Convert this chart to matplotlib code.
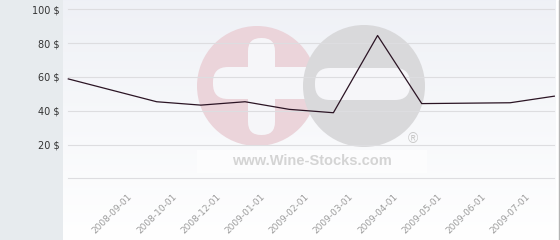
import matplotlib
matplotlib.use('Agg')
import matplotlib.pyplot as plt
import numpy as np
from matplotlib.patches import Circle, FancyBboxPatch, Rectangle
from matplotlib.transforms import Affine2D

# ========== Data ==========
# month offset of each price point (first point = month 0)
months = [0, 2, 3, 4, 5, 6, 7, 8, 10, 11]
prices = [58.8, 45.3, 43.3, 45.3, 40.8, 38.8, 84.5, 44.2, 44.7, 48.6]

tick_pos = [1, 2, 3, 4, 5, 6, 7, 8, 9, 10]
tick_labels = ['2008-09-01', '2008-10-01', '2008-12-01', '2009-01-01', '2009-02-01',
               '2009-03-01', '2009-04-01', '2009-05-01', '2009-06-01', '2009-07-01']
y_ticks = [0, 20, 40, 60, 80, 100]

W, H = 560, 240

fig = plt.figure(figsize=(W / 100, H / 100), dpi=100)
fig.patch.set_facecolor('#e7ebee')

# pixel transform, y measured from the top of the picture
px = Affine2D().scale(1, -1).translate(0, H).scale(0.01) + fig.dpi_scale_trans

# ========== Background panel ==========
bg = fig.add_axes([63 / W, 0, (556 - 63) / W, 1])
bg.set_axis_off()
grad = np.linspace(0, 1, 256).reshape(-1, 1)
top = np.array([0.937, 0.945, 0.965])
bot = np.array([1.0, 1.0, 1.0])
img = top + (bot - top) * grad[..., None]
bg.imshow(img, aspect='auto', extent=(0, 1, 0, 1), origin='upper')
bg.set_xlim(0, 1)
bg.set_ylim(0, 1)

# right border
fig.add_artist(Rectangle((556, 0), 3, H, transform=px, color='white', zorder=0))
fig.add_artist(Rectangle((559, 0), 1, H, transform=px, color='#b4b4b4', zorder=0))

# ========== Watermark ==========
def add(p):
    p.set_transform(px)
    p.set_clip_on(False)
    bg.add_artist(p)

add(Circle((257, 86), 60, color='#ebd4da', lw=0))
add(FancyBboxPatch((248, 38), 27, 97, boxstyle='round,pad=0,rounding_size=13',
                   color='#f6f6f9', lw=0))
add(FancyBboxPatch((213, 67), 110, 32, boxstyle='round,pad=0,rounding_size=15',
                   color='#f6f6f9', lw=0))
add(Circle((364, 86), 61, color='#d9d9db', lw=0))
add(FancyBboxPatch((315, 68), 95, 32, boxstyle='round,pad=0,rounding_size=15',
                   color='#f6f6f9', lw=0))
add(Rectangle((197, 150), 230, 23, color='white', alpha=0.6, lw=0))
bg.text(312, 161, 'www.Wine-Stocks.com', transform=px, ha='center', va='center',
        fontsize=10.5, fontweight='bold', family='Liberation Sans', color='#d4d4d4')
bg.text(413, 139, '\u00ae', transform=px, ha='center', va='center',
        fontsize=10, family='Liberation Sans', color='#c8c8c8')

# ========== Price chart ==========
ax = fig.add_axes([68.3 / W, (H - 178.3) / H, (554.3 - 68.3) / W, (178.3 - 9.3) / H])
ax.patch.set_alpha(0)
ax.plot(months, prices, color='#2b1424', lw=0.9, clip_on=False, zorder=3)

ax.set_xlim(0, 11)
ax.set_ylim(0, 100)
ax.set_yticks(y_ticks)
ax.set_yticklabels(['' if v == 0 else '{} $'.format(v) for v in y_ticks])
ax.set_xticks(tick_pos)
ax.set_xticklabels(tick_labels, rotation=45, ha='center')

ax.grid(axis='y', color='#dddde0', lw=0.8)
for gl in ax.get_ygridlines():
    gl.set_clip_on(False)
ax.set_axisbelow(True)
for s in ax.spines.values():
    s.set_visible(False)
ax.tick_params(axis='y', length=0, pad=6.5, labelsize=7, labelcolor='#333333')
ax.tick_params(axis='x', length=0, pad=10, labelsize=6.5, labelcolor='#9c9c9c')

fig.savefig('out.png', dpi=100, facecolor=fig.get_facecolor())
